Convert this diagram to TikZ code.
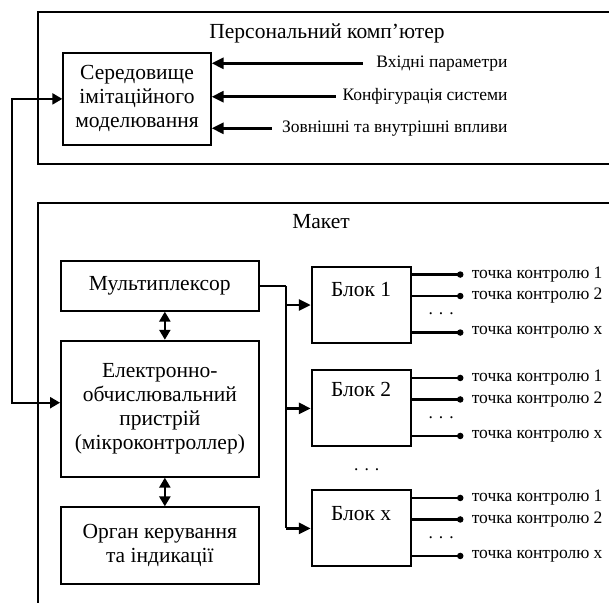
\documentclass[tikz,border=0pt]{standalone}
\usepackage{fontspec}
\setmainfont{Liberation Serif}
\usetikzlibrary{arrows.meta,calc}

\begin{document}
\begin{tikzpicture}[x=1pt,y=-1pt,
  frame/.style={draw,line width=1.9pt,anchor=north west},
  box/.style={draw,line width=1.9pt,align=center,inner sep=0pt,
    font=\fontsize{21.5}{24}\selectfont},
  blkbox/.style={draw,line width=1.9pt,minimum width=99pt,minimum height=76pt},
  ttl/.style={font=\fontsize{21.5}{24}\selectfont},
  lbl/.style={font=\fontsize{17.5}{20}\selectfont},
  arr/.style={line width=2.8pt,-{Triangle[length=12pt,width=11pt]}},
  dbl/.style={line width=2.6pt,{Triangle[length=10pt,width=11pt]}-{Triangle[length=10pt,width=11pt]}},
  outl/.style={line width=2.6pt},
  pt/.style={circle,fill,inner sep=0pt,minimum size=6.5pt},
  dts/.style={font=\fontsize{17.5}{20}\selectfont,inner sep=0pt}]
\useasboundingbox (0,0) rectangle (609,602);
% outer frames
\node[frame,minimum width=620pt,minimum height=152.3pt] (pc) at (37.3,11) {};
\node[frame,minimum width=620pt,minimum height=450pt] (maket) at (37.3,202.3) {};
\node[ttl] (pct) at (327,33) {Персональний комп’ютер};
\node[ttl] (mkt) at (321,222) {Макет};
% PC part
\node[box,minimum width=147.4pt,minimum height=92.3pt] (sim) at (137,98.9)
  {Середовище\\імітаційного\\моделювання};
\node[lbl,anchor=east] (in1) at (511,63.3) {Вхідні параметри};
\node[lbl,anchor=east] (in2) at (511,96.7) {Конфігурація системи};
\node[lbl,anchor=east] (in3) at (511,128.3) {Зовнішні та внутрішні впливи};
\draw[arr,shorten <=10pt] (in1.west) -- (in1.west -| sim.east);
\draw[arr,shorten <=3pt] (in2.west) -- (in2.west -| sim.east);
\draw[arr,shorten <=7pt] (in3.west) -- (in3.west -| sim.east);
% maket part
\node[box,minimum width=197.7pt,minimum height=49.7pt] (mux) at (159.85,285.85) {Мультиплексор};
\node[box,minimum width=197.7pt,minimum height=136pt] (mcu) at (159.85,408.7)
  {Електронно-\\обчислювальний\\пристрій\\(мікроконтроллер)};
\node[box,minimum width=197.7pt,minimum height=76.4pt] (ctrl) at (159.85,545.5)
  {Орган керування\\та індикації};
\draw[dbl] ($(mux.south)+(5,0)$) -- ($(mcu.north)+(5,0)$);
\draw[dbl] ($(mcu.south)+(5,0)$) -- ($(ctrl.north)+(5,0)$);
% feedback PC <-> maket
\coordinate (fb) at (12.3,0);
\draw[dbl,line width=2.2pt] (sim.west) -- (sim.west -| fb) |- ($(mcu.west)+(0,-6)$);
% blocks
\node[blkbox] (blk1) at (361.2,305) {};
\node[blkbox] (blk2) at (361.2,408.4) {};
\node[blkbox] (blkx) at (361.2,528.4) {};
\node[ttl] (blk1t) at ($(blk1.north)+(0,23)$) {Блок 1};
\node[ttl] (blk2t) at ($(blk2.north)+(0,20)$) {Блок 2};
\node[ttl] (blkxt) at ($(blkx.north)+(0,24)$) {Блок x};
\node[dts] (dots) at (366.7,470) {.\kern6pt.\kern6pt.};
% bus
\coordinate (bus) at (285.7,0);
\draw[line width=1.5pt] (mux.east) -- (mux.east -| bus);
\draw[line width=2pt] (mux.east -| bus) -- (bus |- blkx.west);
\draw[arr] (bus |- blk1.west) -- (blk1.west);
\draw[arr] (bus |- blk2.west) -- (blk2.west);
\draw[arr] (bus |- blkx.west) -- (blkx.west);
% control points
\foreach \b in {blk1,blk2,blkx}{
  \foreach \dy/\k in {8.5/1,30/2,66.5/x}{
    \coordinate (\b-\k) at ($(\b.north east)+(0,\dy)$);
    \node[pt] (\b-p\k) at ($(\b-\k)+(48.6,0)$) {};
    \draw[outl] (\b-\k) -- (\b-p\k.center);
    \node[lbl,anchor=west] at ($(\b-p\k)+(8,0)$) {точка контролю \k};
  }
  \node[dts] at ($(\b.north east)+(29.5,48)$) {.\kern6pt.\kern6pt.};
}
\end{tikzpicture}
\end{document}
